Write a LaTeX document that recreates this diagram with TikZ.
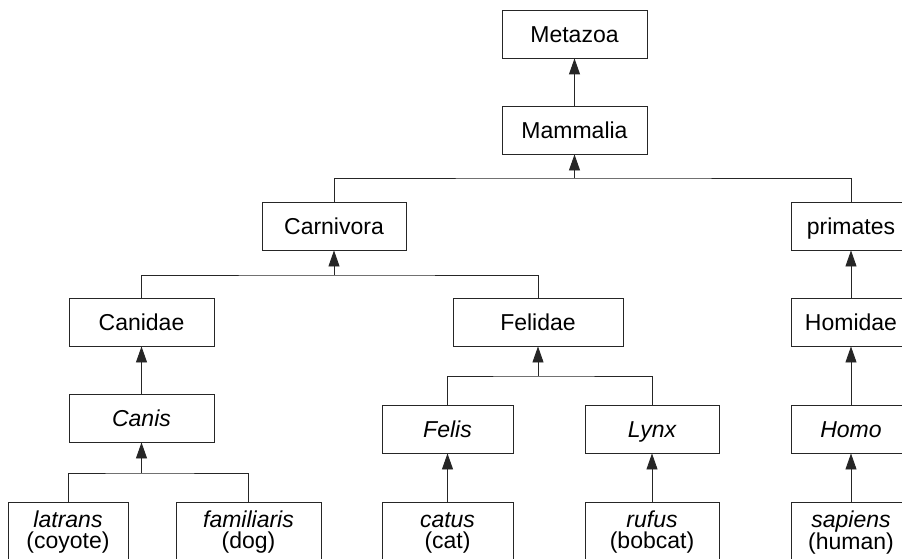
\documentclass[tikz,border=0pt]{standalone}
\usepackage{fontspec}
\setmainfont{Liberation Sans}
\usetikzlibrary{arrows.meta}
\begin{document}
\begin{tikzpicture}[x=1pt,y=-1pt,
  box/.style={draw=black!85, line width=0.9pt, inner sep=0pt, minimum height=48pt,
    text height=16.5pt, text depth=0pt, font=\fontsize{23}{21}\selectfont},
  leaf/.style={draw=black!85, line width=0.9pt, anchor=north, inner xsep=0pt, inner ysep=8pt,
    align=center, font=\fontsize{23}{21}\selectfont},
  link/.style={draw=black!85, line width=0.9pt},
  arr/.style={link, -{Triangle[length=16pt,width=11pt]}}]
\useasboundingbox (0,0) rectangle (902,559);
\clip (0,0) rectangle (902,559);
\fill[white] (0,0) rectangle (902,559);

\node[box, minimum width=145pt] (metazoa) at (574.5,34) {Metazoa};
\node[box, minimum width=145pt] (mammalia) at (574.5,130) {Mammalia};
\node[box, minimum width=144pt] (carnivora) at (334,226) {Carnivora};
\node[box, minimum width=120pt] (primates) at (851,226) {primates};
\node[box, minimum width=145pt] (canidae) at (141.5,322) {Canidae};
\node[box, minimum width=170pt] (felidae) at (538,322) {Felidae};
\node[box, minimum width=120pt] (homidae) at (851,322) {Homidae};
\node[box, minimum width=145pt] (canis) at (141.5,418) {\itshape Canis};
\node[box, minimum width=131pt] (felis) at (447.5,429) {\itshape Felis};
\node[box, minimum width=134pt] (lynx) at (652,429) {\itshape Lynx};
\node[box, minimum width=120pt] (homo) at (851,429) {\itshape Homo};

\node[leaf, minimum width=120pt] (latrans) at (68,502) {\rule{0pt}{17pt}\textit{latrans}\\(coyote)\rule[-5pt]{0pt}{5pt}};
\node[leaf, minimum width=145pt] (familiaris) at (248.5,502) {\rule{0pt}{17pt}\textit{familiaris}\\(dog)\rule[-5pt]{0pt}{5pt}};
\node[leaf, minimum width=131pt] (catus) at (447.5,502) {\rule{0pt}{17pt}\textit{catus}\\(cat)\rule[-5pt]{0pt}{5pt}};
\node[leaf, minimum width=134pt] (rufus) at (652,502) {\rule{0pt}{17pt}\textit{rufus}\\(bobcat)\rule[-5pt]{0pt}{5pt}};
\node[leaf, minimum width=120pt] (sapiens) at (851,502) {\rule{0pt}{17pt}\textit{sapiens}\\(human)\rule[-5pt]{0pt}{5pt}};

\coordinate (j1) at (574.5,178);
\coordinate (j2) at (334,275);
\coordinate (j3) at (141.5,473);
\coordinate (j4) at (538,376);

\draw[arr] (mammalia) -- (metazoa);
\draw[arr] (j1) -- (mammalia);
\draw[link] (carnivora.north) |- (j1) -| (primates.north);
\draw[arr] (j2) -- (carnivora);
\draw[link] (canidae.north) |- (j2) -| (felidae.north);
\draw[arr] (canis) -- (canidae);
\draw[arr] (j3) -- (canis);
\draw[link] (latrans.north) |- (j3) -| (familiaris.north);
\draw[arr] (j4) -- (felidae);
\draw[link] (felis.north) |- (j4) -| (lynx.north);
\draw[arr] (catus) -- (felis);
\draw[arr] (rufus) -- (lynx);
\draw[arr] (homidae) -- (primates);
\draw[arr] (homo) -- (homidae);
\draw[arr] (sapiens) -- (homo);
\end{tikzpicture}
\end{document}
